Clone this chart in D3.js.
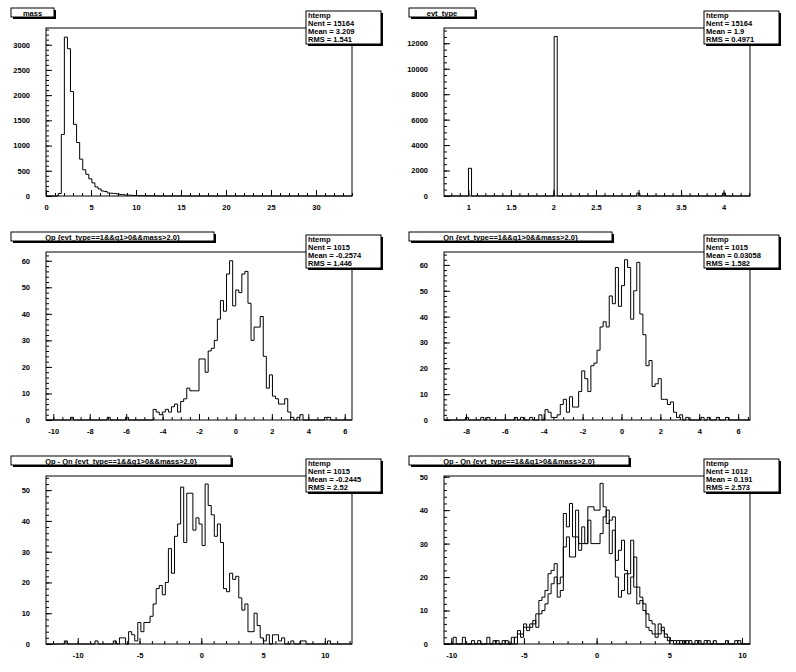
<!DOCTYPE html>
<html><head><meta charset="utf-8">
<script src="https://cdn.jsdelivr.net/npm/d3@7"></script>
<style>body{margin:0;background:#fff}svg{display:block}text{font-family:"Liberation Sans",Arial,sans-serif;font-weight:bold;font-size:7.5px;fill:#000}</style>
</head><body><svg id="c" width="796" height="672"></svg>
<script>
// ---- data: sparse bins [binIndex, count], 100 bins spanning each x-range ----
const massBins=[[4,50],[5,1220],[6,3150],[7,2920],[8,2070],[9,1420],[10,1060],[11,730],[12,520],[13,430],[14,340],[15,260],[16,180],[17,140],[18,100],[19,90],[20,60],[21,55],[22,50],[23,40],[24,30],[25,25],[26,20],[27,15],[28,12],[29,10],[30,8],[31,6],[32,5],[33,4],[34,3],[35,3],[36,2],[38,2],[40,1],[43,1],[46,1]];
const evtBins=[[8,2177],[36,12530],[63,230],[91,230]];
const qpBins=[[8,1],[20,1],[26,1],[35,4],[36,3],[37,2],[38,3],[39,4],[40,3],[41,5],[42,6],[43,3],[44,7],[45,8],[46,12],[47,11],[48,11],[49,11],[50,23],[51,23],[52,18],[53,26],[54,27],[55,30],[56,38],[57,45],[58,41],[59,55],[60,60],[61,43],[62,49],[63,48],[64,55],[65,56],[66,44],[67,30],[68,35],[69,35],[70,39],[71,24],[72,12],[73,17],[74,9],[75,8],[76,6],[77,6],[78,8],[79,3],[80,1],[82,1],[83,2],[91,1],[92,1]];
const qnBins=[[7,1],[12,1],[14,1],[23,1],[25,1],[28,1],[31,2],[33,4],[34,3],[35,1],[36,1],[37,2],[38,6],[39,8],[40,3],[41,9],[42,5],[43,5],[44,11],[45,19],[46,16],[47,11],[48,21],[49,22],[50,27],[51,36],[52,38],[53,36],[54,48],[55,45],[56,59],[57,44],[58,52],[59,62],[60,59],[61,39],[62,50],[63,61],[64,41],[65,33],[66,21],[67,23],[68,13],[69,14],[70,16],[71,8],[72,8],[73,6],[74,7],[75,3],[76,1],[77,2],[79,1],[84,1],[86,1],[89,1],[92,1]];
const diffBins=[[6,1],[16,1],[22,1],[24,2],[25,2],[27,4],[28,3],[29,1],[30,7],[31,4],[32,7],[33,7],[34,9],[35,13],[36,18],[37,19],[38,16],[39,20],[40,31],[41,23],[42,35],[43,39],[44,51],[45,33],[46,49],[47,49],[48,37],[49,41],[50,39],[51,32],[52,52],[53,45],[54,42],[55,35],[56,39],[57,33],[58,18],[59,17],[60,23],[61,21],[62,22],[63,15],[64,11],[65,13],[66,4],[67,4],[68,10],[69,6],[70,2],[71,1],[72,3],[74,3],[75,3],[76,1],[77,2],[80,1],[83,1],[84,1],[92,1]];
const diffBinsA=[[3,2],[9,1],[14,2],[17,1],[19,1],[23,2],[24,4],[25,3],[26,6],[27,5],[28,6],[29,6],[30,9],[31,13],[32,14],[33,16],[34,21],[35,22],[36,24],[37,18],[38,20],[39,39],[40,35],[41,42],[42,32],[43,40],[44,30],[45,35],[46,30],[47,41],[48,41],[49,40],[50,40],[51,48],[52,41],[53,36],[54,37],[55,38],[56,25],[57,28],[58,31],[59,22],[60,21],[61,31],[62,17],[63,17],[64,14],[65,12],[66,9],[67,7],[68,6],[69,3],[70,6],[71,4],[72,2],[73,1],[74,1],[76,1],[78,1],[80,1],[83,1],[85,1],[88,1],[92,1],[96,1]];
const diffBinsB=[[6,2],[11,1],[16,1],[20,1],[22,2],[24,3],[25,2],[26,5],[27,4],[28,5],[29,7],[30,5],[31,9],[32,10],[33,12],[34,15],[35,18],[36,20],[37,14],[38,16],[39,29],[40,32],[41,26],[42,26],[43,32],[44,28],[45,30],[46,30],[47,37],[48,30],[49,30],[50,30],[51,33],[52,38],[53,40],[54,27],[55,34],[56,20],[57,14],[58,16],[59,21],[60,15],[61,20],[62,26],[63,12],[64,13],[65,10],[66,5],[67,4],[68,3],[69,2],[70,3],[71,5],[72,3],[73,2],[74,1],[75,1],[77,1],[79,1],[82,1],[86,1],[95,1]];
const cut="{evt_type==1&&q1>0&&mass>2.0}";
const titles=["mass","evt_type","Qp "+cut,"Qn "+cut,"Qp - Qn "+cut,"Qp - Qn "+cut];
const titleW=[43,66,203,203,220,220];
const statsLines=[["htemp","Nent = 15164","Mean = 3.209","RMS = 1.541"],["htemp","Nent = 15164","Mean =  1.9","RMS = 0.4971"],["htemp","Nent = 1015","Mean = -0.2574","RMS = 1.446"],["htemp","Nent = 1015","Mean = 0.03058","RMS = 1.582"],["htemp","Nent = 1015","Mean = -0.2445","RMS = 2.52"],["htemp","Nent = 1012","Mean = 0.191","RMS = 2.573"]];
const xDomains=[[0,34],[0.714,4.31],[-10.4,6.4],[-9.13,6.61],[-12.57,12.2],[-10.5,10.55]];
const yMax=[3331,13200,63.3,65,54.6,50.2];
const xMajor=[5,0.5,2,2,5,5],xMinor=[1,0.1,0.5,0.5,1,1];
const yMajor=[500,2000,10,10,10,10],yMinor=[100,500,2,2,2,2];
const series=[[massBins],[evtBins],[qpBins],[qnBins],[diffBins],[diffBinsA,diffBinsB]];

const svg=d3.select("#c");
const NB=100, L=46,R=352,T=28,B=196;
function fmt(v,step){return step<1?d3.format(".1f")(v).replace(/\.0$/,""):String(Math.round(v));}
series.forEach((ser,i)=>{
  const g=svg.append("g").attr("transform",`translate(${(i%2)*398},${Math.floor(i/2)*224})`);
  const x=d3.scaleLinear().domain(xDomains[i]).range([L,R]);
  const y=d3.scaleLinear().domain([0,yMax[i]]).range([B,T]);
  const bw=(xDomains[i][1]-xDomains[i][0])/NB;
  const [x0,x1]=xDomains[i];
  const maj=d3.range(Math.ceil(x0/xMajor[i]-1e-9)*xMajor[i],x1+1e-9,xMajor[i]).map(v=>+v.toFixed(6));
  const mnr=d3.range(Math.ceil(x0/xMinor[i]-1e-9)*xMinor[i],x1+1e-9,xMinor[i]).map(v=>+v.toFixed(6));
  g.append("g").attr("transform",`translate(0,${B})`).call(d3.axisBottom(x).tickValues(mnr).tickSize(-3).tickFormat("")).call(a=>a.select(".domain").remove());
  g.append("g").attr("transform",`translate(0,${B})`).call(d3.axisBottom(x).tickValues(maj).tickSize(-6).tickPadding(10).tickFormat(v=>fmt(v,xMajor[i]))).call(a=>a.select(".domain").remove()).call(a=>a.selectAll("text").attr("dy","0.5em").style("font-size","7.5px"));
  const ymn=d3.range(0,yMax[i],yMinor[i]), ymj=d3.range(0,yMax[i],yMajor[i]);
  g.append("g").attr("transform",`translate(${L},0)`).call(d3.axisLeft(y).tickValues(ymn).tickSize(-3).tickFormat("")).call(a=>a.select(".domain").remove());
  g.append("g").attr("transform",`translate(${L},0)`).call(d3.axisLeft(y).tickValues(ymj).tickSize(-6).tickPadding(16).tickFormat(d3.format("d"))).call(a=>a.select(".domain").remove()).call(a=>a.selectAll("text").style("font-size","7.5px"));
  g.selectAll(".tick line").attr("stroke","#000");
  g.selectAll(".tick text").attr("fill","#000");
  ser.forEach(bins=>{
    const m=new Map(bins);
    const pts=[[x(x0),y(0)]];
    for(let k=0;k<NB;k++){const v=m.get(k)||0;pts.push([x(x0+k*bw),y(v)],[x(x0+(k+1)*bw),y(v)]);}
    pts.push([x(x1),y(0)]);
    g.append("path").attr("d",d3.line()(pts)).attr("fill","none").attr("stroke","#000").attr("stroke-width",1);
  });
  g.append("rect").attr("x",L).attr("y",T).attr("width",R-L).attr("height",B-T).attr("fill","none").attr("stroke","#000").attr("stroke-width",1);
  const tw=titleW[i];
  g.append("rect").attr("x",13).attr("y",10).attr("width",tw).attr("height",9).attr("fill","#000");
  g.append("rect").attr("x",11).attr("y",8).attr("width",tw).attr("height",9).attr("fill","#fff").attr("stroke","#000");
  g.append("text").attr("x",11+tw/2).attr("y",15.5).attr("text-anchor","middle").text(titles[i]);
  g.append("rect").attr("x",308).attr("y",13).attr("width",75).attr("height",33).attr("fill","#000");
  g.append("rect").attr("x",306).attr("y",11).attr("width",75).attr("height",33).attr("fill","#fff").attr("stroke","#000");
  statsLines[i].forEach((s,j)=>g.append("text").attr("x",308).attr("y",18+j*8).text(s));
});
</script></body></html>
